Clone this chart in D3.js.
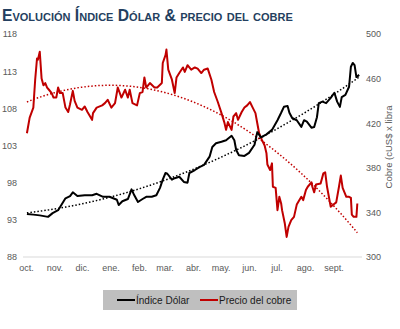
<!DOCTYPE html>
<html>
<head>
<meta charset="utf-8">
<script src="https://cdn.jsdelivr.net/npm/d3@7"></script>
<style>
  html, body { margin: 0; padding: 0; background: #fff; }
  svg { display: block; }
  text { font-family: "Liberation Sans", Arial, sans-serif; }
</style>
</head>
<body>
<svg id="chart" width="400" height="329"></svg>
<script>
// ---- Data ----
const monthLabels = ["oct.", "nov.", "dic.", "ene.", "feb.", "mar.", "abr.", "may.", "jun.", "jul.", "ago.", "sept."];
const leftTicks = [88, 93, 98, 103, 108, 113, 118];
const rightTicks = [300, 340, 380, 420, 460, 500];

// Índice Dólar (DXY)
const dollarDates = [
  "2021-10-02","2021-10-09","2021-10-16","2021-10-25","2021-10-30","2021-11-05","2021-11-09","2021-11-13",
  "2021-11-18","2021-11-21","2021-11-26","2021-12-04","2021-12-12","2021-12-17","2021-12-24","2021-12-31",
  "2022-01-08","2022-01-10","2022-01-14","2022-01-20","2022-01-24","2022-01-27","2022-01-31","2022-02-05",
  "2022-02-09","2022-02-15","2022-02-20","2022-02-24","2022-02-27","2022-03-02","2022-03-04","2022-03-09",
  "2022-03-12","2022-03-17","2022-03-22","2022-03-26","2022-03-28","2022-04-03","2022-04-08","2022-04-13",
  "2022-04-19","2022-04-22","2022-04-26","2022-05-02","2022-05-07","2022-05-13","2022-05-16","2022-05-18",
  "2022-05-21","2022-05-27","2022-06-01","2022-06-07","2022-06-10","2022-06-14","2022-06-20","2022-06-26",
  "2022-07-02","2022-07-06","2022-07-09","2022-07-13","2022-07-15","2022-07-18","2022-07-23","2022-07-28",
  "2022-07-31","2022-08-03","2022-08-08","2022-08-11","2022-08-14","2022-08-16","2022-08-20","2022-08-24",
  "2022-08-29","2022-09-02","2022-09-05","2022-09-08","2022-09-10","2022-09-14","2022-09-18","2022-09-20",
  "2022-09-22","2022-09-24","2022-09-26","2022-09-29"
];
const dollarValues = [
  93.8, 93.7, 93.6, 93.4, 93.9, 94.3, 95.1, 95.9,
  96.2, 96.7, 96.2, 96.3, 96.3, 96.5, 96.1, 96.1,
  95.7, 95.0, 95.5, 95.8, 97.1, 96.3, 95.4, 95.8,
  96.1, 96.1, 96.3, 97.3, 98.4, 99.3, 99.2, 98.4,
  98.6, 98.8, 98.1, 98.0, 99.3, 99.7, 100.1, 100.4,
  101.5, 102.8, 103.3, 103.5, 103.7, 104.3, 103.7, 102.4,
  101.7, 101.6, 102.0, 103.1, 104.8, 104.1, 104.5, 105.1,
  106.4, 107.4, 108.2, 108.3, 107.4, 106.7, 106.4, 105.5,
  106.4, 106.2, 105.4, 105.5, 106.8, 108.7, 108.9, 108.7,
  109.4, 110.1, 108.9, 108.2, 109.5, 109.8, 110.9, 113.6,
  114.1, 113.8, 112.2, 112.5
];

// Precio del cobre (cUS$ x libra)
const copperDates = [
  "2021-10-02","2021-10-05","2021-10-09","2021-10-11","2021-10-13","2021-10-14","2021-10-16","2021-10-18",
  "2021-10-20","2021-10-22","2021-10-24","2021-10-26","2021-10-29","2021-10-31","2021-11-03","2021-11-05",
  "2021-11-07","2021-11-10","2021-11-13","2021-11-16","2021-11-18","2021-11-21","2021-11-23","2021-11-26",
  "2021-12-01","2021-12-04","2021-12-07","2021-12-12","2021-12-13","2021-12-17","2021-12-23","2021-12-26",
  "2021-12-29","2022-01-02","2022-01-06","2022-01-09","2022-01-13","2022-01-17","2022-01-20","2022-01-22",
  "2022-01-25","2022-01-30","2022-02-02","2022-02-05","2022-02-07","2022-02-09","2022-02-13","2022-02-18",
  "2022-02-21","2022-02-26","2022-02-27","2022-03-02","2022-03-03","2022-03-05","2022-03-09","2022-03-12",
  "2022-03-14","2022-03-17","2022-03-21","2022-03-23","2022-03-26","2022-03-30","2022-04-03","2022-04-06",
  "2022-04-10","2022-04-13","2022-04-17","2022-04-21","2022-04-24","2022-04-28","2022-05-02","2022-05-05",
  "2022-05-07","2022-05-09","2022-05-13","2022-05-15","2022-05-18","2022-05-20","2022-05-24","2022-05-27",
  "2022-05-30","2022-06-02","2022-06-05","2022-06-08","2022-06-10","2022-06-12","2022-06-15","2022-06-18",
  "2022-06-20","2022-06-21","2022-06-24","2022-06-26","2022-06-27","2022-06-30","2022-07-02","2022-07-04",
  "2022-07-06","2022-07-07","2022-07-10","2022-07-12","2022-07-14","2022-07-17","2022-07-20","2022-07-23",
  "2022-07-28","2022-07-30","2022-08-02","2022-08-04","2022-08-08","2022-08-09","2022-08-11","2022-08-13",
  "2022-08-18","2022-08-21","2022-08-23","2022-08-25","2022-08-29","2022-09-01","2022-09-04","2022-09-07",
  "2022-09-09","2022-09-11","2022-09-15","2022-09-18","2022-09-20","2022-09-21","2022-09-23","2022-09-26",
  "2022-09-27"
];
const copperValues = [
  411, 425, 434, 459, 478, 477, 484, 460,
  454, 456, 452, 450, 447, 443, 443, 452,
  447, 447, 434, 430, 437, 449, 440, 434,
  432, 435, 430, 423, 429, 434, 436, 438,
  441, 434, 438, 452, 443, 450, 443, 450,
  438, 436, 447, 448, 461, 452, 456, 452,
  452, 456, 474, 481, 486, 468, 459, 447,
  461, 465, 470, 466, 472, 468, 470, 469,
  465, 468, 469, 459, 448, 439, 429, 421,
  414, 421, 414, 426, 429, 423, 430, 434,
  436, 439, 434, 429, 420, 411, 405, 400,
  393, 383, 378, 384, 363, 362, 342, 354,
  348, 342, 330, 318, 327, 333, 336, 347,
  354, 351, 360, 363, 367, 363, 358, 365,
  366, 375, 376, 363, 345, 347, 349, 363,
  373, 362, 354, 354, 353, 338, 336, 336,
  348
];

// ---- Layout ----
const W = 400, H = 329;
const plotLeft = 23, plotRight = 362, plotTop = 34, plotBottom = 257;
const colDollar = "#000000", colCopper = "#C00000";
const axisColor = "#595959";

const parse = d3.timeParse("%Y-%m-%d");
const dollar = dollarDates.map((d, i) => ({ date: parse(d), value: dollarValues[i] }));
const copper = copperDates.map((d, i) => ({ date: parse(d), value: copperValues[i] }));

const svg = d3.select("#chart");
svg.append("rect").attr("width", W).attr("height", H).attr("fill", "#fff");

const start = parse("2021-10-01"), end = parse("2022-10-01");
const x = d3.scaleTime().domain([start, end]).range([26, 361]);
const yL = d3.scaleLinear().domain([88, 118]).range([plotBottom, plotTop]);
const yR = d3.scaleLinear().domain([300, 500]).range([plotBottom, plotTop]);

// Title (small caps)
const title = svg.append("text")
  .attr("x", 2).attr("y", 21)
  .attr("fill", "#243F60")
  .style("font-weight", "bold")
  .style("font-variant", "small-caps")
  .style("font-size", "15px")
  .text("Evolución Índice Dólar & precio del cobre");
const tw = title.node().getComputedTextLength();
title.style("font-size", (15 * 301 / tw).toFixed(2) + "px");

// Baseline
svg.append("line")
  .attr("x1", plotLeft).attr("x2", plotRight)
  .attr("y1", yL(88)).attr("y2", yL(88))
  .attr("stroke", "#D9D9D9").attr("stroke-width", 1);

// X axis (month labels)
const months = d3.timeMonth.range(start, end);
const xAxis = svg.append("g")
  .attr("transform", `translate(0,${plotBottom})`)
  .call(d3.axisBottom(x).tickValues(months).tickSize(0).tickPadding(8)
    .tickFormat((d, i) => monthLabels[i]));
xAxis.select(".domain").remove();
xAxis.selectAll("text").attr("fill", axisColor).style("font-size", "9px");

// Left axis
const lAxis = svg.append("g")
  .attr("transform", `translate(${plotLeft},0)`)
  .call(d3.axisLeft(yL).tickValues(leftTicks).tickSize(0).tickPadding(6));
lAxis.select(".domain").remove();
lAxis.selectAll("text").attr("fill", axisColor).style("font-size", "9px");

// Right axis
const rAxis = svg.append("g")
  .attr("transform", `translate(${plotRight},0)`)
  .call(d3.axisRight(yR).tickValues(rightTicks).tickSize(0).tickPadding(4));
rAxis.select(".domain").remove();
rAxis.selectAll("text").attr("fill", axisColor).style("font-size", "9px");

svg.append("text")
  .attr("transform", "translate(392,147) rotate(-90)")
  .attr("text-anchor", "middle")
  .attr("fill", axisColor)
  .style("font-size", "9.5px")
  .text("Cobre (cUS$ x libra");

// Polynomial (order 2) trend line by least squares
function quadFit(data) {
  const t0 = +data[0].date, t1 = +data[data.length - 1].date;
  const pts = data.map(d => [(+d.date - t0) / (t1 - t0), d.value]);
  let s0 = 0, s1 = 0, s2 = 0, s3 = 0, s4 = 0, sy = 0, sxy = 0, sx2y = 0;
  pts.forEach(([u, v]) => {
    s0 += 1; s1 += u; s2 += u * u; s3 += u ** 3; s4 += u ** 4;
    sy += v; sxy += u * v; sx2y += u * u * v;
  });
  // Solve 3x3 system with Cramer's rule
  const det3 = m => m[0][0]*(m[1][1]*m[2][2]-m[1][2]*m[2][1]) - m[0][1]*(m[1][0]*m[2][2]-m[1][2]*m[2][0]) + m[0][2]*(m[1][0]*m[2][1]-m[1][1]*m[2][0]);
  const A = [[s0, s1, s2], [s1, s2, s3], [s2, s3, s4]];
  const B = [sy, sxy, sx2y];
  const D = det3(A);
  const coef = [0, 1, 2].map(k => det3(A.map((row, r) => row.map((v, c) => c === k ? B[r] : v))) / D);
  return d3.range(0, 61).map(i => {
    const u = i / 60;
    return { date: new Date(t0 + u * (t1 - t0)), value: coef[0] + coef[1] * u + coef[2] * u * u };
  });
}

const lineL = d3.line().x(d => x(d.date)).y(d => yL(d.value));
const lineR = d3.line().x(d => x(d.date)).y(d => yR(d.value));

// Trend lines (dotted)
svg.append("path").datum(quadFit(dollar)).attr("d", lineL)
  .attr("fill", "none").attr("stroke", colDollar).attr("stroke-width", 1.5)
  .attr("stroke-dasharray", "1.5,2");
svg.append("path").datum(quadFit(copper)).attr("d", lineR)
  .attr("fill", "none").attr("stroke", colCopper).attr("stroke-width", 1.5)
  .attr("stroke-dasharray", "1.5,2");

// Series
svg.append("path").datum(copper).attr("d", lineR)
  .attr("fill", "none").attr("stroke", colCopper).attr("stroke-width", 2)
  .attr("stroke-linejoin", "round");
svg.append("path").datum(dollar).attr("d", lineL)
  .attr("fill", "none").attr("stroke", colDollar).attr("stroke-width", 2)
  .attr("stroke-linejoin", "round");

// Legend
const leg = svg.append("g");
leg.append("rect").attr("x", 103).attr("y", 290).attr("width", 194).attr("height", 20).attr("fill", "#BFBFBF");
const legendItems = [
  { label: "Índice Dólar", color: colDollar, x: 117 },
  { label: "Precio del cobre", color: colCopper, x: 200 }
];
legendItems.forEach(it => {
  leg.append("line").attr("x1", it.x).attr("x2", it.x + 18).attr("y1", 300).attr("y2", 300)
    .attr("stroke", it.color).attr("stroke-width", 2);
  leg.append("text").attr("x", it.x + 19).attr("y", 303.5)
    .attr("fill", "#1a1a1a").style("font-size", "10px").text(it.label);
});
</script>
</body>
</html>
